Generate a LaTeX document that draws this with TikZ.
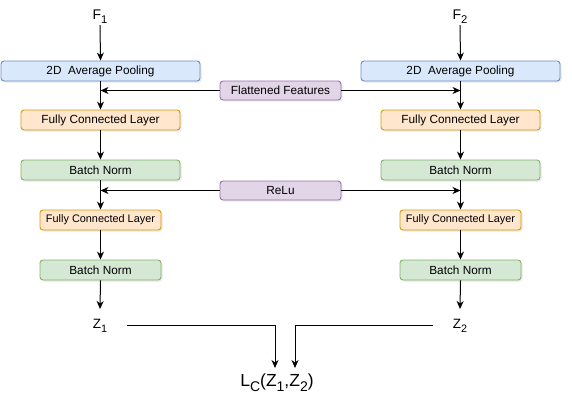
\documentclass[tikz,border=0pt]{standalone}
\usepackage{fontspec}
\setmainfont{Liberation Sans}
\usetikzlibrary{arrows.meta,shadows}
\definecolor{bluef}{HTML}{DAE8FC}\definecolor{blued}{HTML}{6C8EBF}
\definecolor{orf}{HTML}{FFE6CC}\definecolor{ord}{HTML}{D79B00}
\definecolor{grf}{HTML}{D5E8D4}\definecolor{grd}{HTML}{82B366}
\definecolor{puf}{HTML}{E1D5E7}\definecolor{pud}{HTML}{9673A6}
\newcommand{\lsub}[1]{\raisebox{-0.3em}{\fontsize{0.8\dimexpr\fontdimen6\font\relax}{1em}\selectfont #1}}
\begin{document}
\begin{tikzpicture}[x=1pt,y=-1pt,
  box/.style={rounded corners=3pt, line width=0.9pt, inner sep=0pt, minimum height=20pt,
    font=\fontsize{11.8}{13}\selectfont, drop shadow={opacity=0.18, shadow xshift=1.5pt, shadow yshift=-1.5pt}},
  poolbox/.style={box, fill=bluef, draw=blued, minimum width=199pt},
  fcbox/.style={box, fill=orf, draw=ord, minimum width=159pt},
  fcsmall/.style={box, fill=orf, draw=ord, minimum width=121pt, font=\fontsize{10.9}{12}\selectfont},
  bnbox/.style={box, fill=grf, draw=grd, minimum width=159pt},
  bnsmall/.style={box, fill=grf, draw=grd, minimum width=121pt},
  sidebox/.style={box, fill=puf, draw=pud, minimum width=121pt, minimum height=19pt},
  lab/.style={inner sep=1pt},
  arr/.style={-{Stealth[length=8pt,width=7pt,inset=2.5pt]}, line width=1pt},
]
\useasboundingbox (0,0) rectangle (572,412);
% left column
\node[lab, font=\fontsize{14}{16}\selectfont] (f1) at (100,17) {F\lsub{1}};
\node[poolbox] (p1) at (100.5,71) {2D\ \ Average Pooling};
\node[fcbox] (fa1) at (100.5,120) {Fully Connected Layer};
\node[bnbox] (b1) at (100.5,170) {Batch Norm};
\node[fcsmall] (fb1) at (100.5,220) {Fully Connected Layer};
\node[bnsmall] (bb1) at (100.5,270) {Batch Norm};
\node[lab, font=\fontsize{13.5}{15}\selectfont] (z1) at (100,326) {Z\lsub{1}};
% right column
\node[lab, font=\fontsize{14}{16}\selectfont] (f2) at (460,17) {F\lsub{2}};
\node[poolbox] (p2) at (460.5,71) {2D\ \ Average Pooling};
\node[fcbox] (fa2) at (460.5,120) {Fully Connected Layer};
\node[bnbox] (b2) at (460.5,170) {Batch Norm};
\node[fcsmall] (fb2) at (460.5,220) {Fully Connected Layer};
\node[bnsmall] (bb2) at (460.5,270) {Batch Norm};
\node[lab, font=\fontsize{13.5}{15}\selectfont] (z2) at (460,326) {Z\lsub{2}};
% side boxes
\node[sidebox] (ff) at (280.5,90.5) {Flattened Features};
\node[sidebox] (re) at (280.5,190.5) {ReLu};
% loss
\node[lab, font=\fontsize{17.5}{19}\selectfont] (lc) at (277,383) {L\lsub{C}(Z\lsub{1},Z\lsub{2})};
\coordinate (la) at (275,368);
\coordinate (ra) at (295,368);
% vertical arrows
\draw[arr] (f1.south) -- (p1.north);
\draw[arr] (p1) -- (fa1);
\draw[arr] (fa1) -- (b1);
\draw[arr] (b1) -- (fb1);
\draw[arr] (fb1) -- (bb1);
\draw[arr] (bb1.south) -- (100,309);
\draw[arr] (f2.south) -- (p2.north);
\draw[arr] (p2) -- (fa2);
\draw[arr] (fa2) -- (b2);
\draw[arr] (b2) -- (fb2);
\draw[arr] (fb2) -- (bb2);
\draw[arr] (bb2.south) -- (460,309);
% side arrows
\draw[arr] (ff.west) -- (ff.west -| p1.south);
\draw[arr] (ff.east) -- (ff.east -| p2.south);
\draw[arr] (re.west) -- (re.west -| b1.south);
\draw[arr] (re.east) -- (re.east -| b2.south);
% to loss
\draw[arr] ([xshift=19pt]z1.east |- 0,325) -| (la);
\draw[arr] ([xshift=-19pt]z2.west |- 0,325) -| (ra);
\end{tikzpicture}
\end{document}
